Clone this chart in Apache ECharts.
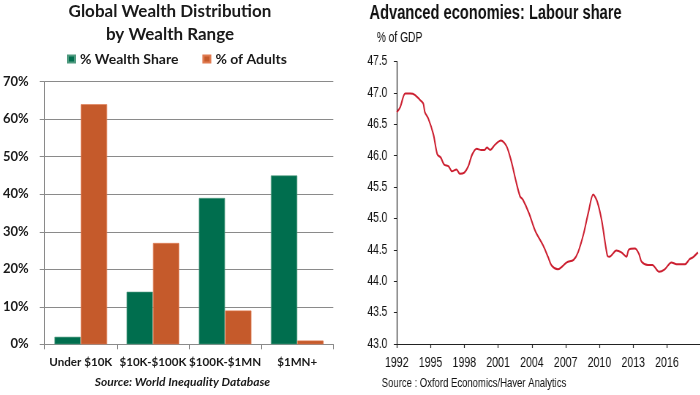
<!DOCTYPE html>
<html>
<head>
<meta charset="utf-8">
<script src="https://cdn.jsdelivr.net/npm/echarts@6/dist/echarts.min.js"></script>
<style>
html,body{margin:0;padding:0;background:#fff;overflow:hidden;}
#wrap{position:relative;width:700px;height:395px;overflow:hidden;background:#fff;}
#left{position:absolute;left:0;top:0;width:355px;height:395px;}
#right{position:absolute;left:355px;top:0;height:395px;transform-origin:0 0;}
</style>
</head>
<body>
<div id="wrap"><div id="left"></div><div id="right"></div></div>
<script>
// Left chart data
var wealthCategories = ['Under $10K', '$10K-$100K', '$100K-$1MN', '$1MN+'];
var wealthShare = [2, 14, 39, 45];
var adultsShare = [64, 27, 9, 1];
var wealthTicks = [0, 10, 20, 30, 40, 50, 60, 70];

// Right chart data (approx. quarterly readings)
var labourYears = [1992.0, 1992.3, 1992.75, 1993.2, 1993.6, 1994.1, 1994.35, 1994.5, 1994.8, 1995.25, 1995.6, 1995.9, 1996.2, 1996.6, 1996.9, 1997.3, 1997.6, 1998.0, 1998.35, 1998.7, 1999.1, 1999.5, 1999.8, 2000.0, 2000.3, 2000.7, 2001.25, 2001.75, 2002.2, 2002.55, 2002.95, 2003.2, 2003.75, 2004.3, 2005.0, 2005.45, 2005.75, 2006.3, 2006.6, 2007.1, 2007.7, 2008.1, 2008.6, 2009.0, 2009.45, 2009.8, 2010.2, 2010.7, 2010.9, 2011.5, 2011.95, 2012.4, 2012.6, 2013.15, 2013.5, 2013.75, 2014.3, 2014.7, 2015.3, 2015.8, 2016.4, 2016.85, 2017.6, 2018.0, 2018.3, 2018.75];
var labourShare = [46.69, 46.77, 46.99, 46.99, 46.97, 46.88, 46.83, 46.69, 46.59, 46.34, 46.02, 45.97, 45.86, 45.83, 45.75, 45.78, 45.71, 45.73, 45.83, 46.02, 46.11, 46.09, 46.09, 46.13, 46.09, 46.17, 46.24, 46.15, 45.89, 45.62, 45.35, 45.30, 45.08, 44.80, 44.57, 44.38, 44.25, 44.19, 44.22, 44.30, 44.34, 44.46, 44.76, 45.08, 45.38, 45.27, 44.97, 44.41, 44.39, 44.49, 44.46, 44.39, 44.50, 44.52, 44.44, 44.31, 44.26, 44.26, 44.15, 44.19, 44.30, 44.27, 44.27, 44.35, 44.38, 44.46];
var labourYearTicks = [1992, 1995, 1998, 2001, 2004, 2007, 2010, 2013, 2016];
var labourValueTicks = [43.0, 43.5, 44.0, 44.5, 45.0, 45.5, 46.0, 46.5, 47.0, 47.5];

var leftFont = 'Lato, Carlito, "Open Sans", sans-serif';
var rightFont = '"Liberation Sans", Arial, sans-serif';

// horizontal condensing of the right panel (narrow typeface look)
var S = 0.73;
var rightW = 345 / S;
var rEl = document.getElementById('right');
rEl.style.width = rightW + 'px';
rEl.style.transform = 'scaleX(' + S + ')';
function rx(x) { return (x - 355) / S; }

var left = echarts.init(document.getElementById('left'), null, {renderer: 'canvas'});
left.setOption({
  animation: false,
  backgroundColor: '#fff',
  title: [
    {text: 'Global Wealth Distribution\nby Wealth Range', left: 170, top: 0.5, padding: 0, textAlign: 'center',
     textStyle: {fontFamily: leftFont, fontWeight: 'bold', fontSize: 17, lineHeight: 23, color: '#1a1a1a'}},
    {text: 'Source: World Inequality Database', left: 182.5, top: 376, padding: 0, textAlign: 'center',
     textStyle: {fontFamily: leftFont, fontWeight: 'bold', fontStyle: 'italic', fontSize: 12, color: '#1a1a1a'}}
  ],
  legend: {
    data: ['% Wealth Share', '% of Adults'],
    left: 67, top: 52, padding: 0, icon: 'rect', itemWidth: 7, itemHeight: 7, itemGap: 24,
    textStyle: {fontFamily: leftFont, fontWeight: 'bold', fontSize: 14, color: '#1a1a1a'}
  },
  grid: {left: 42.7, top: 81.7, width: 290.6, height: 262.6, containLabel: false},
  xAxis: {type: 'category', data: wealthCategories,
     axisLine: {show: true, lineStyle: {color: '#8a8a8a', width: 1}},
     axisTick: {show: true, length: 5, lineStyle: {color: '#8a8a8a'}},
     axisLabel: {fontFamily: leftFont, fontWeight: 'bold', fontSize: 11.6, color: '#1a1a1a', margin: 12, interval: 0}},
  yAxis: {type: 'value', min: wealthTicks[0], max: wealthTicks[wealthTicks.length - 1], interval: 10,
     axisLine: {show: true, lineStyle: {color: '#8a8a8a', width: 1}},
     axisTick: {show: true, length: 5, lineStyle: {color: '#8a8a8a'}},
     splitLine: {show: true, lineStyle: {color: '#8a8a8a', width: 1}},
     axisLabel: {fontFamily: leftFont, fontWeight: 'bold', fontSize: 13, color: '#1a1a1a', margin: 16,
       formatter: '{value}%'}},
  series: [
    {name: '% Wealth Share', type: 'bar', data: wealthShare, barWidth: 26.3, barGap: '0%',
     itemStyle: {color: '#006E4E', borderColor: '#4f9a7f', borderWidth: 0.6}},
    {name: '% of Adults', type: 'bar', data: adultsShare, barWidth: 26.3, barGap: '0%',
     itemStyle: {color: '#C55A2B', borderColor: '#e07a50', borderWidth: 0.6}}
  ]
});

var right = echarts.init(rEl, null, {renderer: 'canvas', width: rightW, height: 395});
var lineData = labourYears.map(function (y, i) { return [y, labourShare[i]]; });
right.setOption({
  animation: false,
  backgroundColor: '#fff',
  title: [
    {text: 'Advanced economies: Labour share', left: rx(369.5), top: 3, padding: 0,
     textStyle: {fontFamily: rightFont, fontWeight: 'bold', fontSize: 20, color: '#111'}},
    {text: '% of GDP', left: rx(376.7), top: 31, padding: 0,
     textStyle: {fontFamily: rightFont, fontWeight: 'normal', fontSize: 14, color: '#111'}},
    {text: 'Source : Oxford Economics/Haver Analytics', left: rx(381.7), top: 377, padding: 0,
     textStyle: {fontFamily: rightFont, fontWeight: 'normal', fontSize: 13, color: '#111'}}
  ],
  grid: {left: rx(396.7), top: 61.5, width: 303.3 / S, height: 282.5, containLabel: false},
  xAxis: {type: 'value', min: 1992, max: 2019, interval: 3,
     axisLine: {show: true, lineStyle: {color: '#222', width: 1.2}},
     axisTick: {show: true, length: 4, lineStyle: {color: '#222', width: 1.2}},
     splitLine: {show: false},
     axisLabel: {fontFamily: rightFont, fontSize: 14.5, color: '#111', margin: 11, showMaxLabel: false,
       formatter: function (v) { return labourYearTicks.indexOf(Math.round(v)) >= 0 ? String(Math.round(v)) : ''; }}},
  yAxis: {type: 'value', min: labourValueTicks[0], max: labourValueTicks[labourValueTicks.length - 1], interval: 0.5,
     axisLine: {show: true, lineStyle: {color: '#222', width: 1.2}},
     axisTick: {show: true, length: 4, lineStyle: {color: '#222', width: 1}},
     splitLine: {show: false},
     axisLabel: {fontFamily: rightFont, fontSize: 14, color: '#111', margin: 13,
       formatter: function (v) { return v.toFixed(1); }}},
  series: [
    {name: 'Labour share', type: 'line', data: lineData,
     showSymbol: false, smooth: 0.3, lineStyle: {color: '#CC1F30', width: 2}}
  ]
});
</script>
</body>
</html>
